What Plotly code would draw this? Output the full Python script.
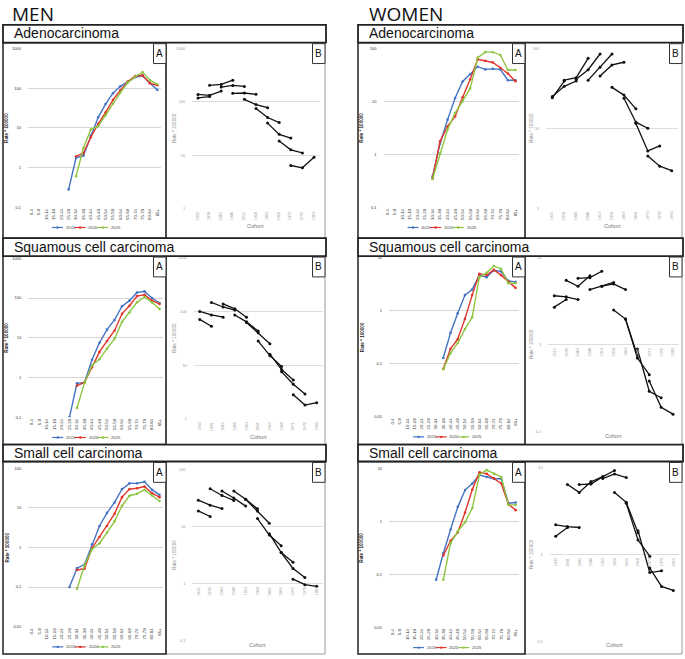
import plotly.graph_objects as go

W, H = 685, 659

ages = ["0-4", "5-9", "10-14", "15-19", "20-24", "25-29", "30-34", "35-39", "40-44",
        "45-49", "50-54", "55-59", "60-64", "65-69", "70-74", "75-79", "80-84", "85+"]
cohorts = ["1933", "1938", "1943", "1948", "1953", "1958", "1963", "1968", "1973", "1978", "1983"]
years = ["2015", "2020", "2025"]

_ = None
# ---- MEN (rate * 100000 by age group, projected years) ----
men_adeno_2015 = [_, _, _, _, _, 0.28, 1.75, 2.0, 6.4, 18.5, 40, 75, 112, 145, 190, 205, 138, 91]
men_adeno_2020 = [_, _, _, _, _, _, 1.9, 2.3, 5.8, 12.6, 24.6, 51, 89, 147, 204, 213, 133, 119]
men_adeno_2025 = [_, _, _, _, _, _, 0.6, 3.1, 9.1, 11, 21, 41, 78, 139, 195, 256, 160, 126]

men_sq_2015 = [_, _, _, _, _, 0.1, 0.71, 0.75, 2.8, 7.5, 16, 28, 62, 86, 138, 147, 100, 75]
men_sq_2020 = [_, _, _, _, _, _, 0.62, 0.75, 1.8, 4.4, 8.3, 15, 40, 64, 112, 121, 86, 71]
men_sq_2025 = [_, _, _, _, _, _, 0.17, 0.74, 2.0, 2.9, 5.3, 9.4, 25, 43, 78, 106, 78, 53]

men_sc_2015 = [_, _, _, _, _, 0.1, 0.30, 0.37, 1.2, 3.5, 7.5, 13.8, 30, 42, 42, 46, 29, 21.5]
men_sc_2020 = [_, _, _, _, _, _, 0.27, 0.29, 0.96, 1.85, 3.5, 7.1, 18.8, 30, 31.6, 35, 23.7, 18.8]
men_sc_2025 = [_, _, _, _, _, _, 0.09, 0.35, 0.9, 1.28, 2.37, 4.6, 11.4, 20.4, 22.8, 28.7, 20.7, 15]

# ---- WOMEN ----
women_adeno_2015 = [_, _, _, _, _, _, 0.38, 1.58, 4.5, 11.5, 23.7, 32.5, 45, 40, 41, 40, 25, 25]
women_adeno_2020 = [_, _, _, _, _, _, 0.35, 1.75, 3.35, 5.2, 11.9, 26, 62, 58, 54, 43, 33.5, 24]
women_adeno_2025 = [_, _, _, _, _, _, 0.34, 1.03, 2.94, 6, 10, 17.5, 67, 85, 85, 75, 39, 39]

women_sq_2015 = [_, _, _, _, _, _, _, 0.128, 0.38, 0.89, 1.97, 2.5, 4.7, 4.3, 5.8, 5.5, 3.65, 3.5]
women_sq_2020 = [_, _, _, _, _, _, _, 0.08, 0.19, 0.29, 0.7, 1.97, 5.0, 4.7, 5.9, 4.7, 3.55, 2.7]
women_sq_2025 = [_, _, _, _, _, _, _, 0.078, 0.158, 0.244, 0.45, 0.75, 4.3, 5.2, 7.0, 6.2, 3.3, 3.3]

women_sc_2015 = [_, _, _, _, _, _, 0.079, 0.25, 0.7, 1.88, 3.9, 5.2, 7.5, 6.9, 6.4, 6.4, 2.2, 2.27]
women_sc_2020 = [_, _, _, _, _, _, _, 0.227, 0.43, 0.62, 1.47, 4.0, 8.5, 7.9, 6.5, 5.2, 2.1, 1.63]
women_sc_2025 = [_, _, _, _, _, _, _, 0.079, 0.387, 0.65, 0.96, 1.78, 7.7, 9.3, 7.9, 6.9, 2.05, 2.05]

histologies = ["Adenocarcinoma", "Squamous cell carcinoma", "Small cell carcinoma"]
sex_titles = ["MEN", "WOMEN"]

series = {
    ("MEN", 0): (men_adeno_2015, men_adeno_2020, men_adeno_2025),
    ("MEN", 1): (men_sq_2015, men_sq_2020, men_sq_2025),
    ("MEN", 2): (men_sc_2015, men_sc_2020, men_sc_2025),
    ("WOMEN", 0): (women_adeno_2015, women_adeno_2020, women_adeno_2025),
    ("WOMEN", 1): (women_sq_2015, women_sq_2020, women_sq_2025),
    ("WOMEN", 2): (women_sc_2015, women_sc_2020, women_sc_2025),
}

# ---- layout geometry (pixels) ----
year_colors = ["#4472C4", "#E0352B", "#8DC540"]
FONT = "Liberation Sans"

col_geo = {"MEN": dict(left=3, mid=166, right=326, title=10, btitle=8.5),
           "WOMEN": dict(left=358, mid=525, right=683, title=367, btitle=6.5)}
row_geo = [dict(htop=22, ptop=40, pbot=237),
           dict(htop=237, ptop=255, pbot=445),
           dict(htop=445, ptop=462, pbot=656)]

# plot areas: (first cat px, last cat px, top px, bottom px, log top, log bottom)
A_geo = {
    ("MEN", 0): (31.7, 157.3, 46, 205.7, 3, -1),
    ("MEN", 1): (32, 159.5, 257.3, 417.3, 3, -1),
    ("MEN", 2): (32, 159.5, 469, 628.3, 2, -2),
    ("WOMEN", 0): (387.3, 515.4, 45.7, 205.7, 2, -1),
    ("WOMEN", 1): (392.7, 515.5, 256.7, 416.7, 1, -2),
    ("WOMEN", 2): (392.7, 515.7, 469, 629, 1, -2),
}
B_geo = {
    ("MEN", 0): (198, 314, 46, 207, 3, 0),
    ("MEN", 1): (199.7, 316.7, 256.7, 419, 3, 0),
    ("MEN", 2): (198.3, 316.7, 470, 642.7, 2, -1),
    ("WOMEN", 0): (552.3, 671.7, 45.7, 206.7, 2, 0),
    ("WOMEN", 1): (554.3, 673, 256.7, 431.7, 1, -1),
    ("WOMEN", 2): (555.7, 673.3, 468.3, 643.3, 1, -1),
}


def fx(px):
    return px / W


def fy(py):
    return 1 - py / H


def fmt(v):
    if v >= 1:
        return str(int(v))
    return ("%g" % v).replace(".", ",")


fig = go.Figure()
layout = {}
annotations = []
shapes = []
axis_n = [0]


def make_axes(geo, cats, tickcolor, show_x_ticks, gridcolor, standoff):
    axis_n[0] += 1
    n = axis_n[0]
    x0, x1, ytop, ybot, ltop, lbot = geo
    ncat = len(cats)
    step = (x1 - x0) / (ncat - 1)
    xdom = [fx(x0 - step / 2), fx(x1 + step / 2)]
    ydom = [fy(ybot), fy(ytop)]
    xname = "xaxis" if n == 1 else "xaxis%d" % n
    yname = "yaxis" if n == 1 else "yaxis%d" % n
    xref = "x" if n == 1 else "x%d" % n
    yref = "y" if n == 1 else "y%d" % n
    tv = [10.0 ** k for k in range(lbot, ltop + 1)]
    layout[xname] = dict(domain=xdom, anchor=yref, type="category",
                         categoryorder="array", categoryarray=cats,
                         range=[-0.5, ncat - 0.5], showgrid=False, zeroline=False,
                         showline=False, ticks="", showticklabels=show_x_ticks,
                         tickangle=-90, tickfont=dict(size=4.3, color="#333", family=FONT),
                         fixedrange=True)
    layout[yname] = dict(domain=ydom, anchor=xref, type="log", range=[lbot, ltop],
                         tickvals=tv, ticktext=[fmt(v) for v in tv],
                         showgrid=True, gridcolor=gridcolor, gridwidth=0.9,
                         zeroline=False, showline=False, ticks="",
                         ticklabelstandoff=standoff,
                         tickfont=dict(size=4, color=tickcolor, family=FONT),
                         fixedrange=True)
    return xref, yref


def label(text, px, py, size, color, angle=0, xanchor="center", family=FONT):
    annotations.append(dict(text=text, x=fx(px), y=fy(py), xref="paper", yref="paper",
                            xanchor=xanchor, yanchor="middle", textangle=angle,
                            showarrow=False, font=dict(size=size, color=color, family=family)))


for sex in sex_titles:
    cg = col_geo[sex]
    for r, hist in enumerate(histologies):
        rg = row_geo[r]
        vals = series[(sex, r)]
        # ---------- Panel A ----------
        ga = A_geo[(sex, r)]
        xr, yr = make_axes(ga, ages, "#333", True, "#d6d6d6", 6)
        for yi, yv in enumerate(vals):
            fig.add_trace(go.Scatter(x=ages, y=yv, xaxis=xr, yaxis=yr, mode="lines+markers",
                                     line=dict(color=year_colors[yi], width=1.4),
                                     marker=dict(size=2.6, color=year_colors[yi]),
                                     name=years[yi], showlegend=False))
        label("<b>Rate * 100000</b>", cg["left"] + 4, (ga[2] + ga[3]) / 2, 4.6, "#222", angle=-90)
        # legend drawn as shapes + text
        step = (ga[1] - ga[0]) / 17
        lx = ga[0] - step / 2 + 24
        lpy = ga[3] + 20.5
        ly = fy(lpy)
        for yi in range(3):
            sx = lx + yi * 22.6
            shapes.append(dict(type="line", xref="paper", yref="paper",
                               x0=fx(sx), x1=fx(sx + 11), y0=ly, y1=ly,
                               line=dict(color=year_colors[yi], width=1.2)))
            shapes.append(dict(type="circle", xref="paper", yref="paper",
                               x0=fx(sx + 4.3), x1=fx(sx + 6.7), y0=ly - 1.2 / H, y1=ly + 1.2 / H,
                               fillcolor=year_colors[yi], line=dict(width=0)))
            label(years[yi], sx + 11.8, lpy, 4.2, "#444", xanchor="left")
        # ---------- Panel B (cohort view of the same rates) ----------
        gb = B_geo[(sex, r)]
        xr, yr = make_axes(gb, cohorts, "#9a9a9a", False, "#dedede", 6)
        for ai in range(8, 18):
            cx, cy = [], []
            for yi in range(3):
                ci = (16 - ai) + yi
                v = vals[yi][ai]
                if 0 <= ci < len(cohorts) and v is not None:
                    cx.append(cohorts[ci])
                    cy.append(v)
            if cx:
                fig.add_trace(go.Scatter(x=cx, y=cy, xaxis=xr, yaxis=yr, mode="lines+markers",
                                         line=dict(color="#111", width=1.3),
                                         marker=dict(size=3, color="#111"),
                                         name=ages[ai], showlegend=False))
        for ci, c in enumerate(cohorts):
            annotations.append(dict(text=c, x=ci, y=0, xref=xr, yref=yr, xanchor="center",
                                    yanchor="top", yshift=-2, textangle=-90, showarrow=False,
                                    font=dict(size=3.8, color="#a0a0a0", family=FONT)))
        label("Rate * 100000", cg["mid"] + cg["btitle"], (gb[2] + gb[3]) / 2, 4.6, "#888", angle=-90)
        cohort_title_y = gb[3] + 18 if gb[5] == 0 else rg["pbot"] - 9
        label("Cohort", (gb[0] + gb[1]) / 2, cohort_title_y, 5.5, "#777")
        # ---------- boxes ----------
        shapes.append(dict(type="rect", xref="paper", yref="paper",
                           x0=fx(cg["mid"]), x1=fx(cg["right"] - 1), y0=fy(rg["pbot"]), y1=fy(rg["ptop"]),
                           line=dict(color="#9a9a9a", width=1)))
        shapes.append(dict(type="rect", xref="paper", yref="paper",
                           x0=fx(cg["left"]), x1=fx(cg["mid"]), y0=fy(rg["pbot"]), y1=fy(rg["ptop"]),
                           line=dict(color="#222", width=1.5)))
        shapes.append(dict(type="rect", xref="paper", yref="paper",
                           x0=fx(cg["left"]), x1=fx(cg["right"]), y0=fy(rg["ptop"]), y1=fy(rg["htop"]),
                           line=dict(color="#222", width=1.8), fillcolor="white"))
        label(hist, cg["left"] + 9, (rg["htop"] + rg["ptop"]) / 2 - 0.5, 14, "#111", xanchor="left")
        for lab, xr0 in (("A", cg["mid"] - 12.5), ("B", cg["right"] - 13.5)):
            shapes.append(dict(type="rect", xref="paper", yref="paper",
                               x0=fx(xr0), x1=fx(xr0 + 12.5), y0=fy(rg["ptop"] + 21), y1=fy(rg["ptop"] + 1),
                               line=dict(color="#333", width=1), fillcolor="white"))
            label(lab, xr0 + 6.25, rg["ptop"] + 11, 10, "#111")
    label(sex, cg["title"], 11.5, 19, "#111", xanchor="left", family="Open Sans")

layout.update(width=W, height=H, margin=dict(l=0, r=0, t=0, b=0, pad=0),
              plot_bgcolor="white", paper_bgcolor="white", showlegend=False,
              annotations=annotations, shapes=shapes, font=dict(family=FONT))
fig.update_layout(**layout)
fig.write_html("out.html", config={"displayModeBar": False},
               post_script="document.body.style.margin='0';")
